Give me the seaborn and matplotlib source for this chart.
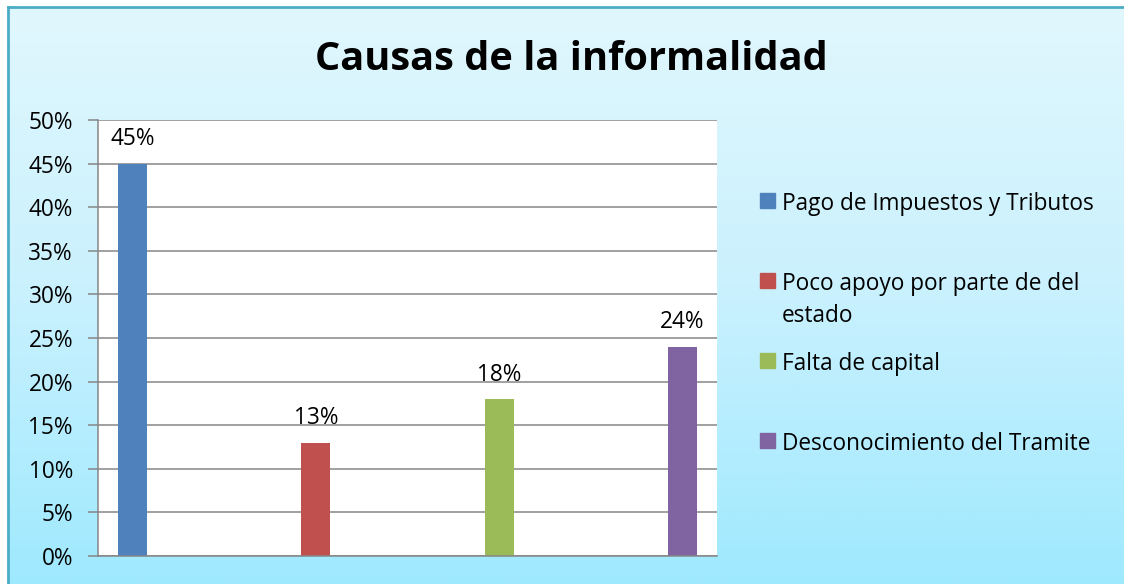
import numpy as np
import pandas as pd
import matplotlib
matplotlib.use("Agg")
import matplotlib.pyplot as plt
from matplotlib.ticker import PercentFormatter, MultipleLocator
from matplotlib.patches import Rectangle
import seaborn as sns

sns.set_style("white")
plt.rcParams['font.family'] = ['Open Sans', 'DejaVu Sans']

# datos
causas = ["Pago de Impuestos y Tributos",
          "Poco apoyo por parte de del\nestado",
          "Falta de capital",
          "Desconocimiento del Tramite"]
porcentajes = [0.45, 0.13, 0.18, 0.24]
colores = ["#4f81bd", "#c0504d", "#9bbb59", "#8064a2"]

df = pd.DataFrame({"causa": causas, "pct": porcentajes})

W, H = 1124, 584
FS = 16.3
fig = plt.figure(figsize=(W / 100, H / 100), dpi=100)
fig.patch.set_facecolor("white")

# fondo degradado con borde
bg = fig.add_axes([8 / W, 0, 1 - 8 / W, 1 - 7 / H], zorder=-10)
grad = np.linspace(0, 1, 256).reshape(-1, 1)
cmap = matplotlib.colors.LinearSegmentedColormap.from_list(
    "bg", ["#e1f7fd", "#c9f1fe", "#9fe9fe"])
bg.imshow(grad, aspect="auto", cmap=cmap, extent=[0, 1, 0, 1], origin="upper")
bg.set_xlim(0, 1)
bg.set_ylim(0, 1)
bg.set_xticks([])
bg.set_yticks([])
for s in ["right", "bottom"]:
    bg.spines[s].set_visible(False)
for s in ["left", "top"]:
    bg.spines[s].set_color("#4bacc6")
    bg.spines[s].set_linewidth(2)

ax = fig.add_axes([98 / W, 1 - 556 / H, (717 - 98) / W, (556 - 120) / H])
ax.set_facecolor("white")

sns.barplot(data=df, x="causa", y="pct", hue="causa", palette=colores,
            dodge=False, width=0.158, legend=False, ax=ax, saturation=1,
            linewidth=0)

ax.set_xlim(-0.188, 3.188)
ax.set_ylim(0, 0.5)
ax.yaxis.set_major_locator(MultipleLocator(0.05))
ax.yaxis.set_major_formatter(PercentFormatter(1.0, decimals=0))
ax.set_xticks([])
ax.set_xlabel("")
ax.set_ylabel("")
ax.grid(axis="y", color="#868686", linewidth=1.1)
ax.set_axisbelow(True)
for s in ["top", "right"]:
    ax.spines[s].set_visible(False)
for s in ["left", "bottom"]:
    ax.spines[s].set_color("#868686")
    ax.spines[s].set_linewidth(1.1)
ax.tick_params(axis="y", length=7, width=1.1, color="#868686", direction="out",
               pad=11, labelsize=FS, labelcolor="black", left=True)

for cont in ax.containers:
    ax.bar_label(cont, labels=[f"{v * 100:.0f}%" for v in cont.datavalues],
                 padding=9, fontsize=FS, color="black")

fig.text(0.508, 1 - 60 / H, "Causas de la informalidad", ha="center",
         va="center", fontsize=28.6, fontweight="bold", color="black")

# leyenda
ley_y = [201, 281, 361, 441]
for nombre, color, yy in zip(causas, colores, ley_y):
    fig.patches.append(Rectangle((760 / W, 1 - (yy + 7) / H), 15 / W, 15 / H,
                                 transform=fig.transFigure, color=color))
    for i, linea in enumerate(nombre.split("\n")):
        fig.text(782 / W, 1 - (yy + 32 * i) / H, linea, ha="left",
                 va="center_baseline", fontsize=FS, color="black")

fig.savefig("out.png", dpi=100)
